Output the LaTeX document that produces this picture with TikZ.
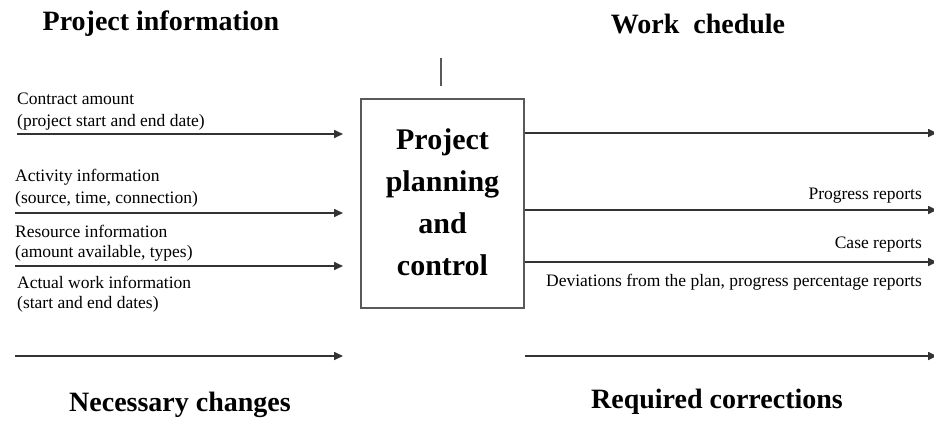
\documentclass[tikz,border=0pt]{standalone}
\usepackage{fontspec}
\setmainfont{Liberation Serif}
\usetikzlibrary{arrows.meta}
\begin{document}
\begin{tikzpicture}[x=1pt,y=-1pt,
  flow/.style={draw=black!80,line width=1.6pt,-{Triangle[length=9pt,width=8pt]}},
  lab/.style={font=\fontsize{17.5}{20}\selectfont,inner sep=0pt},
  head/.style={font=\bfseries\fontsize{28}{32}\selectfont,inner sep=0pt},
  boxstyle/.style={draw=black!65,line width=1.6pt,minimum width=163pt,minimum height=209pt,inner sep=0pt}]
\useasboundingbox (0,0) rectangle (934,421);
\node[boxstyle] (box) at (442.5,203.5) {};
\node[font=\bfseries\fontsize{30}{42}\selectfont,align=center,inner sep=0pt] (boxtxt) at (442.5,202) {Project\\planning\\and\\control};
\coordinate (vt) at (441,58);
\coordinate (vb) at (441,86);
\draw[draw=black!65,line width=1.2pt] (vt) -- (vb);
% headings
\node[head] (h1) at (161,24) {Project information};
\node[head] (h2) at (698,24) {Work\ \ chedule};
\node[head] (h3) at (180,405) {Necessary changes};
\node[head] (h4) at (717,402) {Required corrections};
% left arrows
\coordinate (l1) at (17,134); \coordinate (l1e) at (343,134);
\coordinate (l2) at (15,213); \coordinate (l2e) at (343,213);
\coordinate (l3) at (15,266); \coordinate (l3e) at (343,266);
\coordinate (l4) at (15,356); \coordinate (l4e) at (343,356);
\draw[flow] (l1) -- (l1e);
\draw[flow] (l2) -- (l2e);
\draw[flow] (l3) -- (l3e);
\draw[flow] (l4) -- (l4e);
% right arrows
\coordinate (r1e) at (937,133);
\coordinate (r2e) at (937,210);
\coordinate (r3e) at (937,262);
\coordinate (r4) at (525,356); \coordinate (r4e) at (937,356);
\draw[flow] (box.east |- r1e) -- (r1e);
\draw[flow] (box.east |- r2e) -- (r2e);
\draw[flow] (box.east |- r3e) -- (r3e);
\draw[flow] (r4) -- (r4e);
% left labels
\node[lab,anchor=west] (t1) at (17,99) {Contract amount};
\node[lab,anchor=west] (t2) at (17,122) {(project start and end date)};
\node[lab,anchor=west] (t3) at (15,177) {Activity information};
\node[lab,anchor=west] (t4) at (15,199) {(source, time, connection)};
\node[lab,anchor=west] (t5) at (15,231) {Resource information};
\node[lab,anchor=west] (t6) at (15,253) {(amount available, types)};
\node[lab,anchor=west] (t7) at (17,282) {Actual work information};
\node[lab,anchor=west] (t8) at (17,304) {(start and end dates)};
% right labels
\node[lab,anchor=east] (t9) at (922,196) {Progress reports};
\node[lab,anchor=east] (t10) at (922,245) {Case reports};
\node[lab,anchor=east] (t11) at (922,282) {Deviations from the plan, progress percentage reports};
\end{tikzpicture}
\end{document}
